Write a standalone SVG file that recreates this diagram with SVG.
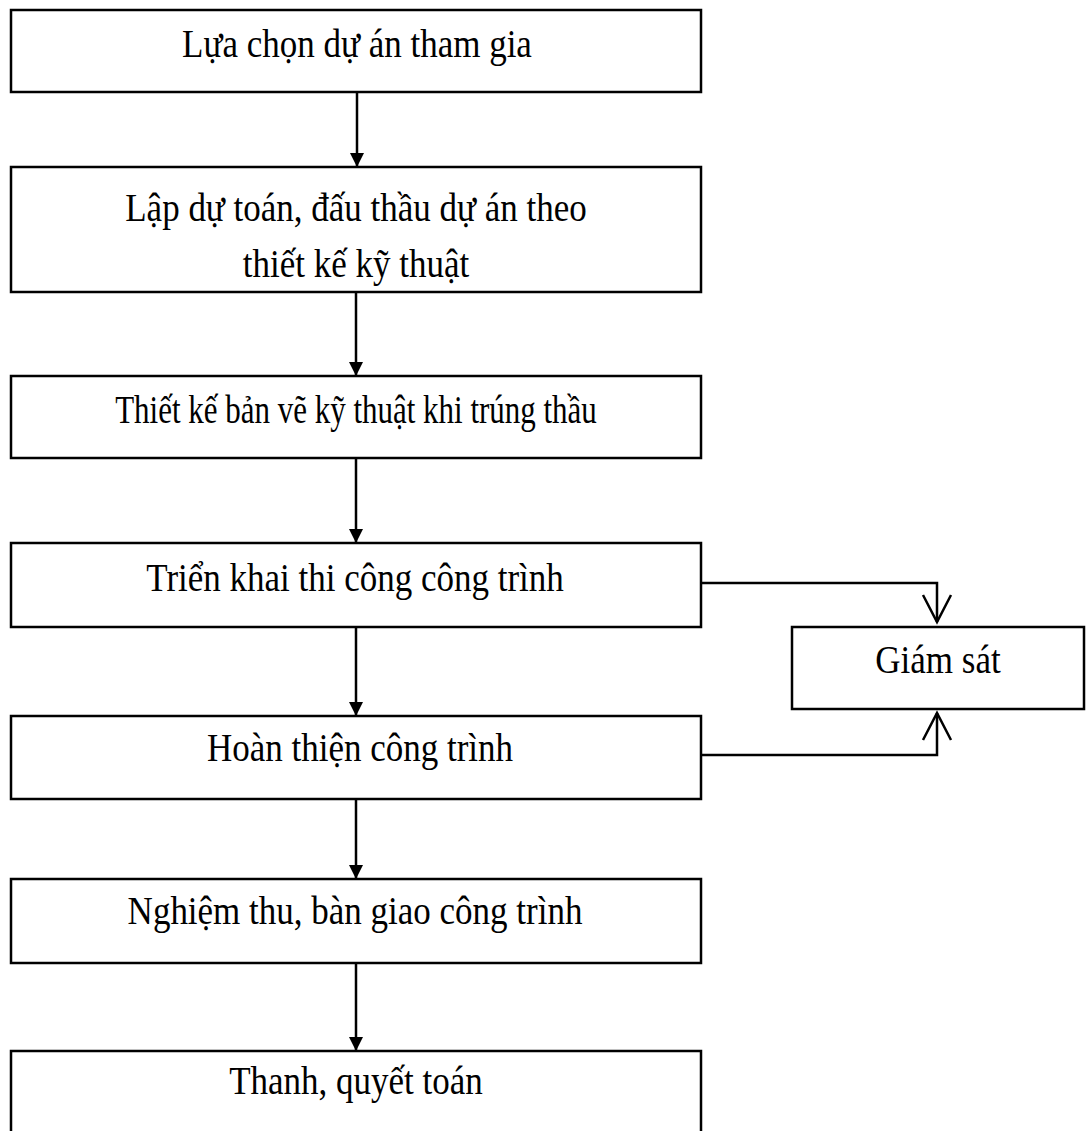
<svg xmlns="http://www.w3.org/2000/svg" width="1091" height="1131" viewBox="0 0 1091 1131">
  <style>
    .box { fill: #fff; stroke: #000; stroke-width: 2.5; }
    .lbl { font-family: "Liberation Serif", "Times New Roman", serif; font-size: 35px; fill: #000; text-anchor: middle; }
    .flow { fill: none; stroke: #000; stroke-width: 2.5; }
    .open { fill: none; stroke: #000; stroke-width: 2.5; }
  </style>
  <defs>
    <marker id="tri" markerUnits="userSpaceOnUse" markerWidth="16" markerHeight="16" viewBox="0 0 16 16" refX="14" refY="8" orient="auto">
      <path d="M0,1 L14,8 L0,15 Z" fill="#000"/>
    </marker>
  </defs>

  <g id="connectors">
    <line class="flow" x1="357" y1="92" x2="357" y2="167" marker-end="url(#tri)"/>
    <line class="flow" x1="356" y1="292" x2="356" y2="376" marker-end="url(#tri)"/>
    <line class="flow" x1="356" y1="458" x2="356" y2="543" marker-end="url(#tri)"/>
    <line class="flow" x1="356" y1="627" x2="356" y2="716" marker-end="url(#tri)"/>
    <line class="flow" x1="356" y1="799" x2="356" y2="879" marker-end="url(#tri)"/>
    <line class="flow" x1="356" y1="963" x2="356" y2="1051" marker-end="url(#tri)"/>
    <!-- side links into the supervision box -->
    <polyline class="flow" points="701,583 937,583 937,622"/>
    <polyline class="open" points="923,595 937,622 951,595"/>
    <polyline class="flow" points="701,755 937,755 937,713"/>
    <polyline class="open" points="923,740 937,713 951,740"/>
  </g>

  <!-- labels are drawn slightly taller than the face's natural proportions -->
  <g id="n1">
    <rect class="box" x="11" y="10" width="690" height="82"/>
    <text class="lbl" transform="translate(357,57) scale(1,1.15)">Lựa chọn dự án tham gia</text>
  </g>
  <g id="n2">
    <rect class="box" x="11" y="167" width="690" height="125"/>
    <text class="lbl" transform="translate(356,221) scale(1,1.15)">Lập dự toán, đấu thầu dự án theo</text>
    <text class="lbl" transform="translate(356,277) scale(1,1.15)">thiết kế kỹ thuật</text>
  </g>
  <g id="n3">
    <rect class="box" x="11" y="376" width="690" height="82"/>
    <text class="lbl" transform="translate(356,423) scale(0.885,1.15)">Thiết kế bản vẽ kỹ thuật khi trúng thầu</text>
  </g>
  <g id="n4">
    <rect class="box" x="11" y="543" width="690" height="84"/>
    <text class="lbl" transform="translate(355,591) scale(1,1.15)">Triển khai thi công công trình</text>
  </g>
  <g id="n5">
    <rect class="box" x="11" y="716" width="690" height="83"/>
    <text class="lbl" transform="translate(360,761) scale(1,1.15)">Hoàn thiện công trình</text>
  </g>
  <g id="n6">
    <rect class="box" x="11" y="879" width="690" height="84"/>
    <text class="lbl" transform="translate(355,924) scale(1,1.15)">Nghiệm thu, bàn giao công trình</text>
  </g>
  <g id="n7">
    <rect class="box" x="11" y="1051" width="690" height="100"/>
    <text class="lbl" transform="translate(356,1094) scale(1,1.15)">Thanh, quyết toán</text>
  </g>
  <g id="n8">
    <rect class="box" x="792" y="627" width="292" height="82"/>
    <text class="lbl" transform="translate(938,673) scale(1,1.15)">Giám sát</text>
  </g>
</svg>
